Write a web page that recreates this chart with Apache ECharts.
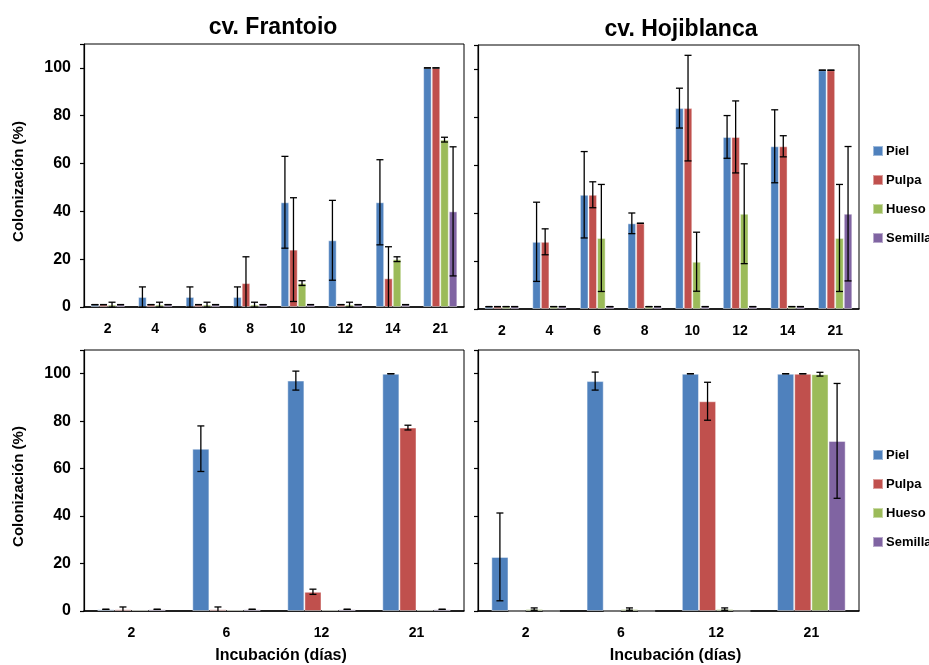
<!DOCTYPE html>
<html>
<head>
<meta charset="utf-8">
<script src="https://cdn.jsdelivr.net/npm/echarts@6/dist/echarts.min.js"></script>
<style>
  html, body { margin: 0; padding: 0; background: #fff; }
  #chart { width: 929px; height: 665px; }
</style>
</head>
<body>
<div id="chart"></div>
<script>
// Incubation days for the upper and lower rows
const daysTop = ['2', '4', '6', '8', '10', '12', '14', '21'];
const daysBottom = ['2', '6', '12', '21'];

const tissues = ['Piel', 'Pulpa', 'Hueso', 'Semilla'];
const colors = ['#4F81BD', '#C0504D', '#9BBB59', '#8064A2'];

// cv. Frantoio, upper row (mean and standard error, %)
const frPiel = [1, 4.2, 4.2, 4.2, 43.8, 27.9, 43.8, 100];
const frPielErr = [0, 4.2, 4.2, 4.2, 19.2, 16.7, 17.8, 0];
const frPulpa = [1, 1, 1, 10, 24, 1, 12, 100];
const frPulpaErr = [0, 0, 0, 11, 21.7, 0, 13.2, 0];
const frHueso = [1, 1, 1, 1, 10, 1, 20, 70];
const frHuesoErr = [1, 1, 1, 1, 1, 1, 1, 1];
const frSemilla = [1, 1, 1, 1, 1, 1, 1, 40];
const frSemillaErr = [0, 0, 0, 0, 0, 0, 0, 27];

// cv. Hojiblanca, upper row
const hjPiel = [1, 28, 47.6, 35.7, 83.7, 71.7, 67.8, 99.5];
const hjPielErr = [0, 16.5, 18, 4.3, 8.3, 8.9, 15.2, 0];
const hjPulpa = [1, 28, 47.6, 35.7, 83.7, 71.7, 67.8, 99.5];
const hjPulpaErr = [0, 5.4, 5.4, 0, 22, 15, 4.4, 0];
const hjHueso = [1, 1, 29.6, 1, 19.7, 39.7, 1, 29.6];
const hjHuesoErr = [0, 0, 22.3, 0, 12.3, 20.8, 0, 22.3];
const hjSemilla = [1, 1, 1, 1, 1, 1, 1, 39.7];
const hjSemillaErr = [0, 0, 0, 0, 0, 0, 0, 28];

// cv. Frantoio, lower row
const frPielB = [0.7, 68.4, 97.1, 100];
const frPielBErr = [0, 9.6, 4, 0];
const frPulpaB = [0.7, 0.7, 8.1, 77.3];
const frPulpaBErr = [1, 1, 1.1, 1];
const frHuesoB = [0.5, 0.5, 0.5, 0.5];
const frHuesoBErr = [null, null, null, null];
const frSemillaB = [0.7, 0.7, 0.7, 0.7];
const frSemillaBErr = [0, 0, 0, 0];

// cv. Hojiblanca, lower row
const hjPielB = [22.8, 96.9, 100, 100];
const hjPielBErr = [18.5, 3.8, 0, 0];
const hjPulpaB = [0, 0, 88.4, 100];
const hjPulpaBErr = [null, null, 8, 0];
const hjHuesoB = [0.8, 0.8, 0.8, 99.8];
const hjHuesoBErr = [0.5, 0.5, 0.5, 0.8];
const hjSemillaB = [0, 0, 0, 71.7];
const hjSemillaBErr = [null, null, null, 24.2];

const panels = [
  { cats: daysTop, vals: [frPiel, frPulpa, frHueso, frSemilla], errs: [frPielErr, frPulpaErr, frHuesoErr, frSemillaErr] },
  { cats: daysTop, vals: [hjPiel, hjPulpa, hjHueso, hjSemilla], errs: [hjPielErr, hjPulpaErr, hjHuesoErr, hjSemillaErr] },
  { cats: daysBottom, vals: [frPielB, frPulpaB, frHuesoB, frSemillaB], errs: [frPielBErr, frPulpaBErr, frHuesoBErr, frSemillaBErr] },
  { cats: daysBottom, vals: [hjPielB, hjPulpaB, hjHuesoB, hjSemillaB], errs: [hjPielBErr, hjPulpaBErr, hjHuesoBErr, hjSemillaBErr] }
];

const FONT = '"Liberation Sans", Arial, sans-serif';
const BAR_FRAC = 0.18;

const grids = [
  { left: 84, top: 44, width: 380, height: 263 },
  { left: 478, top: 45, width: 381, height: 264 },
  { left: 84, top: 350, width: 380, height: 261 },
  { left: 478, top: 350, width: 381, height: 262 }
].map(g => Object.assign(g, { show: true, borderColor: '#000', borderWidth: 1, backgroundColor: 'transparent' }));

const xAxes = panels.map((p, i) => ({
  type: 'category',
  gridIndex: i,
  data: p.cats,
  axisLine: { lineStyle: { color: '#000', width: 1.5 } },
  axisTick: { length: 5, lineStyle: { color: '#000', width: 1.2 } },
  axisLabel: { margin: 15, color: '#000', fontFamily: FONT, fontWeight: 'bold', fontSize: 14 },
  name: i >= 2 ? 'Incubación (días)' : '',
  nameLocation: 'middle',
  nameGap: 37,
  nameTextStyle: { color: '#000', fontFamily: FONT, fontWeight: 'bold', fontSize: 16, padding: [0, 0, 0, 14] }
}));

const yAxes = panels.map((p, i) => ({
  type: 'value',
  gridIndex: i,
  min: 0,
  max: 110,
  interval: 20,
  splitLine: { show: false },
  axisLine: { show: true, lineStyle: { color: '#000', width: 1.2 } },
  axisTick: { show: true, length: 4, lineStyle: { color: '#000', width: 1.2 } },
  axisLabel: {
    show: i % 2 === 0, margin: 13, color: '#000', fontFamily: FONT, fontWeight: 'bold', fontSize: 16,
    formatter: v => (v > 100 ? '' : v)
  },
  name: i % 2 === 0 ? 'Colonización (%)' : '',
  nameLocation: 'middle',
  nameGap: 58,
  nameTextStyle: { color: '#000', fontFamily: FONT, fontWeight: 'bold', fontSize: 15, padding: [0, 12, 0, 0] }
}));

// Vertical error bar with caps, placed over the matching bar of its group
function errorBarRenderer(params, api) {
  const cat = api.value(0);
  const val = api.value(1);
  const err = api.value(2);
  const idx = api.value(3);
  const catW = api.size([1, 0])[0];
  const bw = catW * BAR_FRAC;
  const base = api.coord([cat, val]);
  const x = base[0] + (idx - 1.5) * bw;
  const hi = api.coord([cat, val + err])[1];
  const loVal = val - err;
  const lo = api.coord([cat, Math.max(0, loVal)])[1];
  const cap = 3.5;
  const style = { stroke: '#000', lineWidth: 1.3 };
  const children = [
    { type: 'line', shape: { x1: x, y1: hi, x2: x, y2: lo }, style },
    { type: 'line', shape: { x1: x - cap, y1: hi, x2: x + cap, y2: hi }, style }
  ];
  if (loVal >= 0) {
    children.push({ type: 'line', shape: { x1: x - cap, y1: lo, x2: x + cap, y2: lo }, style });
  }
  return { type: 'group', children };
}

const series = [];
panels.forEach((p, gi) => {
  tissues.forEach((name, si) => {
    series.push({
      type: 'bar',
      name,
      xAxisIndex: gi,
      yAxisIndex: gi,
      data: p.vals[si],
      barWidth: (BAR_FRAC * 100) + '%',
      barGap: '0%',
      itemStyle: { color: colors[si], borderColor: 'rgba(255,255,255,0.45)', borderWidth: 1 },
      emphasis: { disabled: true },
      animation: false
    });
  });
  tissues.forEach((name, si) => {
    const data = [];
    p.errs[si].forEach((e, ci) => {
      if (e !== null) data.push([ci, p.vals[si][ci], e, si]);
    });
    series.push({
      type: 'custom',
      name: name + ' error',
      xAxisIndex: gi,
      yAxisIndex: gi,
      data,
      renderItem: errorBarRenderer,
      encode: { x: 0, y: 1 },
      z: 5,
      silent: true,
      animation: false
    });
  });
});

const legendBase = {
  orient: 'vertical',
  left: 867,
  itemWidth: 10,
  itemHeight: 10,
  itemGap: 15,
  icon: 'rect',
  data: tissues,
  selectedMode: false,
  textStyle: { color: '#000', fontFamily: FONT, fontWeight: 'bold', fontSize: 13, lineHeight: 14, padding: [0, 0, 0, -2] }
};

const option = {
  animation: false,
  backgroundColor: '#fff',
  title: [
    { text: 'cv. Frantoio', left: 268, top: 11, textAlign: 'center',
      textStyle: { color: '#000', fontFamily: FONT, fontWeight: 'bold', fontSize: 23 } },
    { text: 'cv. Hojiblanca', left: 676, top: 13, textAlign: 'center',
      textStyle: { color: '#000', fontFamily: FONT, fontWeight: 'bold', fontSize: 23 } }
  ],
  legend: [
    Object.assign({}, legendBase, { top: 139 }),
    Object.assign({}, legendBase, { top: 443 })
  ],
  grid: grids,
  xAxis: xAxes,
  yAxis: yAxes,
  series
};

const chart = echarts.init(document.getElementById('chart'), null, { renderer: 'canvas' });
chart.setOption(option);
</script>
</body>
</html>
